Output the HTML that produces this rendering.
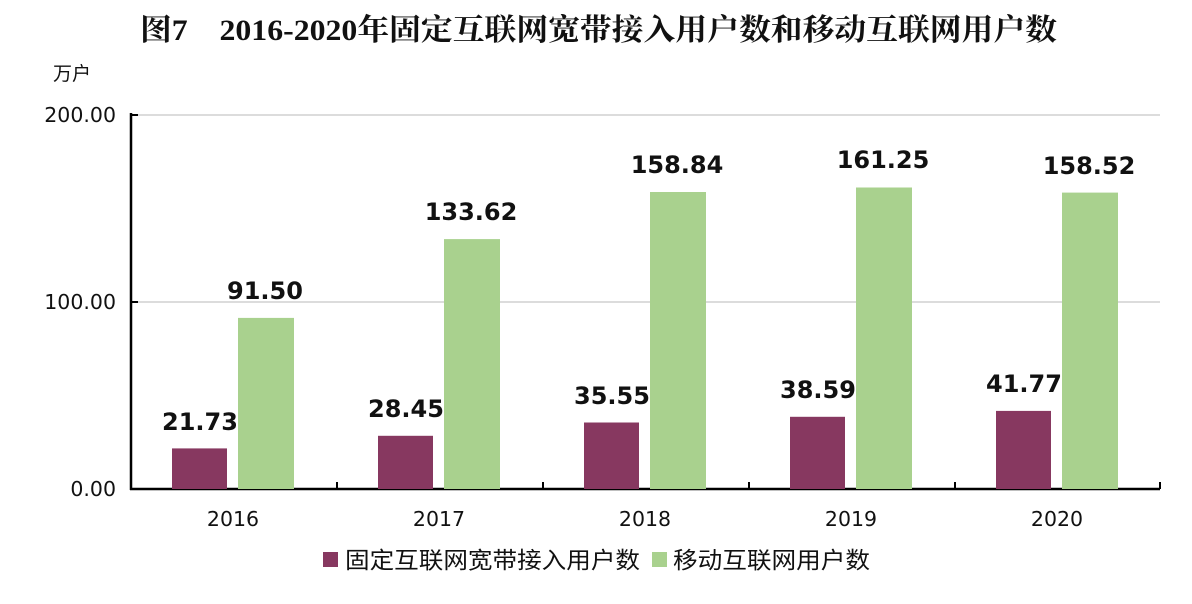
<!DOCTYPE html>
<html><head><meta charset="utf-8"><style>
body{margin:0;background:#fff;width:1192px;height:599px;overflow:hidden}
</style></head><body>
<svg width="1192" height="599" xmlns="http://www.w3.org/2000/svg">
<text x="140" y="40" textLength="917" lengthAdjust="spacingAndGlyphs" font-family="'Liberation Serif','Noto Serif CJK SC',serif" font-weight="bold" font-size="30" fill="#111">图7　2016-2020年固定互联网宽带接入用户数和移动互联网用户数</text>
<text x="72" y="80" text-anchor="middle" font-family="'DejaVu Sans','Noto Sans CJK SC',sans-serif" font-size="19" fill="#111">万户</text>
<g stroke="#d0d0d0" stroke-width="1.5">
<line x1="131" y1="115" x2="1160" y2="115"/>
<line x1="131" y1="302" x2="1160" y2="302"/>
</g>
<g font-family="'DejaVu Sans',sans-serif" font-size="20.5" fill="#111" text-anchor="end">
<text x="116" y="122">200.00</text>
<text x="116" y="309">100.00</text>
<text x="116" y="496">0.00</text>
</g>
<line x1="131" y1="113" x2="131" y2="490" stroke="#000" stroke-width="2.5"/>
<line x1="130" y1="489" x2="1160" y2="489" stroke="#000" stroke-width="2.5"/>
<g stroke="#000" stroke-width="2">
<line x1="131" y1="115" x2="138" y2="115"/><line x1="131" y1="302" x2="138" y2="302"/>
<line x1="337" y1="482" x2="337" y2="489"/><line x1="543" y1="482" x2="543" y2="489"/><line x1="749" y1="482" x2="749" y2="489"/><line x1="955" y1="482" x2="955" y2="489"/><line x1="1160" y1="482" x2="1160" y2="489"/>
</g>
<g fill="#873860">
<rect x="172" y="448.4" width="55" height="40.6"/>
<rect x="378" y="435.8" width="55" height="53.2"/>
<rect x="584" y="422.5" width="55" height="66.5"/>
<rect x="790" y="416.8" width="55" height="72.2"/>
<rect x="996" y="410.9" width="55" height="78.1"/>
</g>
<g fill="#a9d18e">
<rect x="238" y="317.9" width="56" height="171.1"/>
<rect x="444" y="239.1" width="56" height="249.9"/>
<rect x="650" y="192" width="56" height="297"/>
<rect x="856" y="187.5" width="56" height="301.5"/>
<rect x="1062" y="192.6" width="56" height="296.4"/>
</g>
<g font-family="'DejaVu Sans',sans-serif" font-weight="bold" font-size="24" fill="#111" text-anchor="middle">
<text x="200" y="430">21.73</text><text x="265" y="299">91.50</text>
<text x="406" y="417">28.45</text><text x="471" y="220">133.62</text>
<text x="612" y="404">35.55</text><text x="677" y="173">158.84</text>
<text x="818" y="398">38.59</text><text x="883" y="168">161.25</text>
<text x="1024" y="392">41.77</text><text x="1089" y="174">158.52</text>
</g>
<g font-family="'DejaVu Sans',sans-serif" font-size="20.5" fill="#111" text-anchor="middle">
<text x="233" y="526">2016</text><text x="439" y="526">2017</text><text x="645" y="526">2018</text><text x="851" y="526">2019</text><text x="1057" y="526">2020</text>
</g>
<rect x="323" y="552" width="15" height="15" fill="#873860"/>
<rect x="652" y="552" width="15" height="15" fill="#a9d18e"/>
<g font-family="'Noto Sans CJK SC',sans-serif" font-size="23" fill="#111">
<text x="345" y="568" textLength="295" lengthAdjust="spacingAndGlyphs">固定互联网宽带接入用户数</text>
<text x="673" y="568" textLength="197" lengthAdjust="spacingAndGlyphs">移动互联网用户数</text>
</g>
</svg>
</body></html>
